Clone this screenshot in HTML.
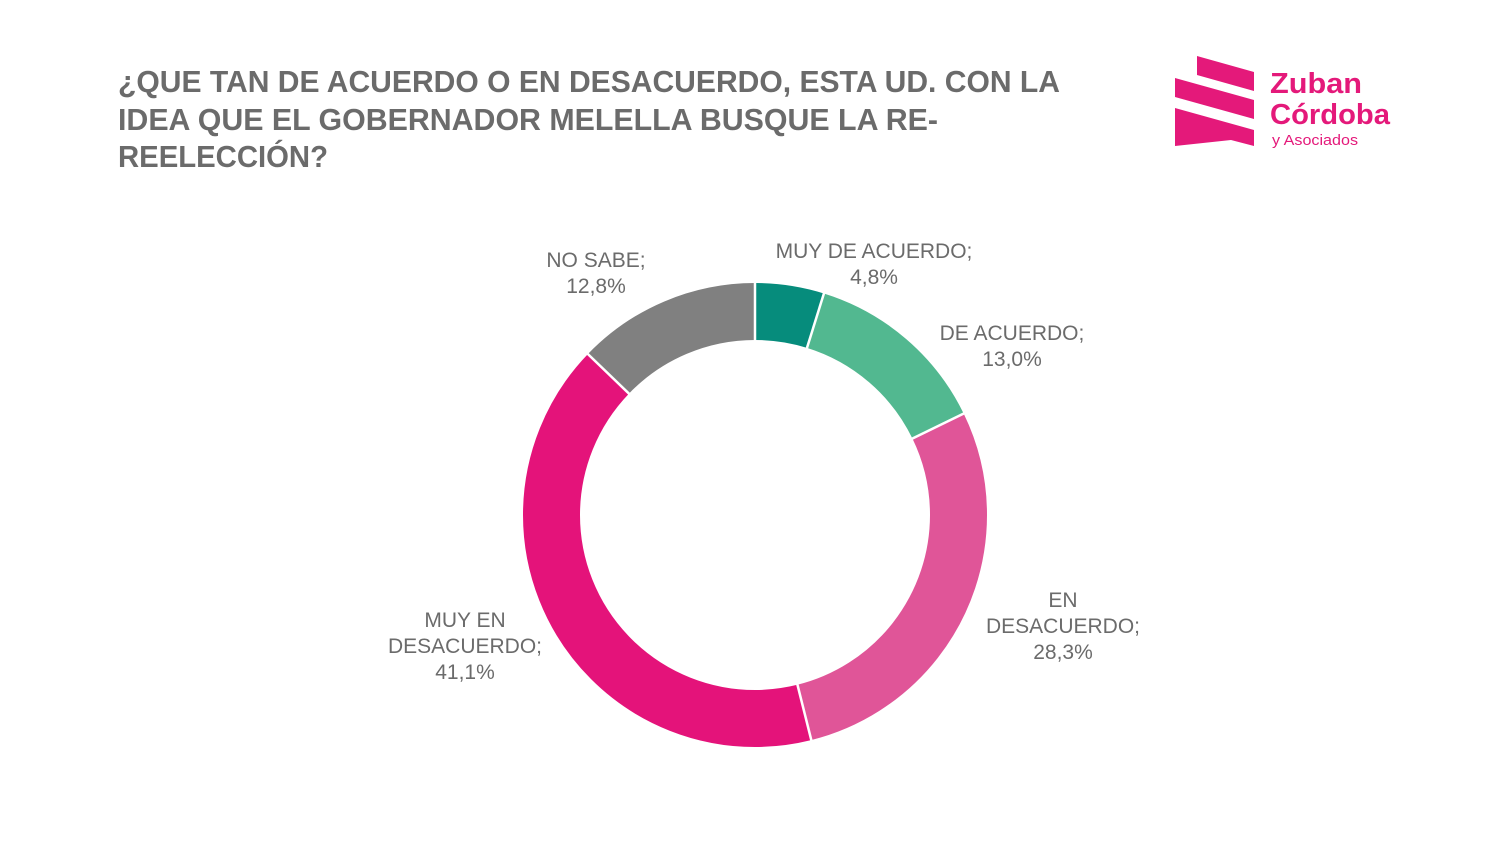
<!DOCTYPE html>
<html><head><meta charset="utf-8"><style>html,body{margin:0;padding:0;background:#fff}svg{display:block}</style></head>
<body>
<svg width="1496" height="841" viewBox="0 0 1496 841" xmlns="http://www.w3.org/2000/svg" font-family="Liberation Sans, sans-serif">
<g fill="#6b6b6b" font-size="31" font-weight="bold">
<text x="118" y="92" textLength="942" lengthAdjust="spacingAndGlyphs">¿QUE TAN DE ACUERDO O EN DESACUERDO, ESTA UD. CON LA</text>
<text x="118" y="130" textLength="820" lengthAdjust="spacingAndGlyphs">IDEA QUE EL GOBERNADOR MELELLA BUSQUE LA RE-</text>
<text x="118" y="167" textLength="210" lengthAdjust="spacingAndGlyphs">REELECCIÓN?</text>
</g>
<g fill="#E4197A">
<polygon points="1197,56 1254,72 1254,91 1197,75"/>
<polygon points="1175,78 1254,100 1254,119 1175,97"/>
<polygon points="1175,108 1254,130 1254,146 1231,140 1175,146"/>
<text x="1270" y="93" font-size="29" font-weight="bold" textLength="92" lengthAdjust="spacingAndGlyphs">Zuban</text>
<text x="1270" y="124" font-size="29" font-weight="bold" textLength="120" lengthAdjust="spacingAndGlyphs">Córdoba</text>
<text x="1272" y="145" font-size="15" textLength="86" lengthAdjust="spacingAndGlyphs">y Asociados</text>
</g>
<g transform="rotate(-90 755 515)" fill="none" stroke-width="57">
<circle cx="755" cy="515" r="203.5" stroke="#068C7C" stroke-dasharray="61.37 2000" stroke-dashoffset="0"/>
<circle cx="755" cy="515" r="203.5" stroke="#52B890" stroke-dasharray="166.2 2000" stroke-dashoffset="-61.37"/>
<circle cx="755" cy="515" r="203.5" stroke="#E05598" stroke-dasharray="361.8 2000" stroke-dashoffset="-227.57"/>
<circle cx="755" cy="515" r="203.5" stroke="#E4137A" stroke-dasharray="525.5 2000" stroke-dashoffset="-589.37"/>
<circle cx="755" cy="515" r="203.5" stroke="#808080" stroke-dasharray="163.7 2000" stroke-dashoffset="-1114.87"/>
</g>
<g stroke="#fff" stroke-width="2.5">
<line x1="755" y1="282" x2="755" y2="341"/>
<line x1="755" y1="282" x2="755" y2="341" transform="rotate(17.28 755 515)"/>
<line x1="755" y1="282" x2="755" y2="341" transform="rotate(64.08 755 515)"/>
<line x1="755" y1="282" x2="755" y2="341" transform="rotate(165.96 755 515)"/>
<line x1="755" y1="282" x2="755" y2="341" transform="rotate(313.92 755 515)"/>
</g>
<g fill="#6b6b6b" font-size="21" text-anchor="middle">
<text x="596" y="267">NO SABE;</text><text x="596" y="293">12,8%</text>
<text x="874" y="258">MUY DE ACUERDO;</text><text x="874" y="284">4,8%</text>
<text x="1012" y="340">DE ACUERDO;</text><text x="1012" y="366">13,0%</text>
<text x="1063" y="607">EN</text><text x="1063" y="633">DESACUERDO;</text><text x="1063" y="659">28,3%</text>
<text x="465" y="627">MUY EN</text><text x="465" y="653">DESACUERDO;</text><text x="465" y="679">41,1%</text>
</g>
</svg>
</body></html>
